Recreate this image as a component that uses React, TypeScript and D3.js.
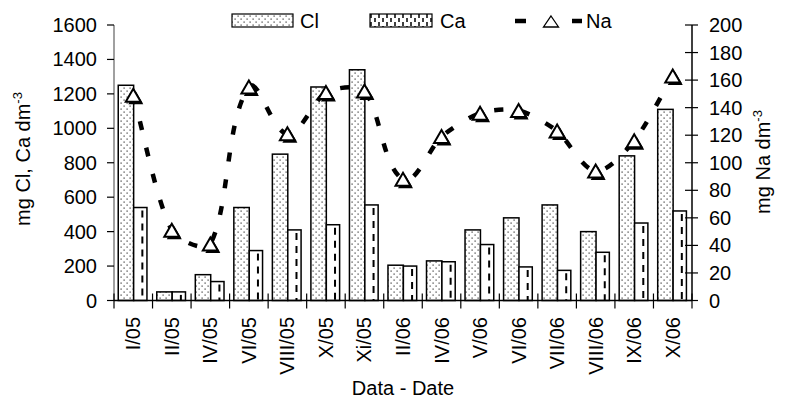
import * as d3 from 'd3';
import * as React from 'react';

const categories = ['I/05', 'II/05', 'IV/05', 'VI/05', 'VIII/05', 'X/05', 'Xi/05', 'II/06', 'IV/06', 'V/06', 'VI/06', 'VII/06', 'VIII/06', 'IX/06', 'X/06'];
const clValues = [1250, 50, 150, 540, 850, 1240, 1340, 205, 230, 410, 480, 555, 400, 840, 1110];
const caValues = [540, 50, 110, 290, 410, 440, 555, 200, 225, 325, 195, 175, 280, 450, 520];
const naValues = [149, 51, 41, 155, 121, 151, 152, 88, 119, 136, 138, 123, 94, 116, 163];
const leftTicks = [0, 200, 400, 600, 800, 1000, 1200, 1400, 1600];
const rightTicks = [0, 20, 40, 60, 80, 100, 120, 140, 160, 180, 200];

const width = 785;
const height = 407;
const plot = { left: 114, right: 692, top: 25, bottom: 300.5 };
const font = 'Liberation Sans, Arial, sans-serif';

const tri = (cx: number, cy: number, w: number, h: number) =>
  `M${cx},${cy - h / 2}L${cx + w / 2},${cy + h / 2}L${cx - w / 2},${cy + h / 2}Z`;

// Excel-ish smoothing: tangent from neighbours, arm length scaled to the segment
function smoothPath(pts: [number, number][], c = 0.25) {
  const n = pts.length;
  const tan = (i: number) => {
    const a = pts[Math.max(i - 1, 0)];
    const b = pts[Math.min(i + 1, n - 1)];
    const dx = b[0] - a[0];
    const dy = b[1] - a[1];
    const l = Math.hypot(dx, dy) || 1;
    return [dx / l, dy / l];
  };
  const p = d3.path();
  p.moveTo(pts[0][0], pts[0][1]);
  for (let i = 0; i < n - 1; i++) {
    const a = pts[i];
    const b = pts[i + 1];
    const ta = tan(i);
    const tb = tan(i + 1);
    const d = Math.hypot(b[0] - a[0], b[1] - a[1]) * c;
    p.bezierCurveTo(a[0] + ta[0] * d, a[1] + ta[1] * d, b[0] - tb[0] * d, b[1] - tb[1] * d, b[0], b[1]);
  }
  return p.toString();
}

export default function App() {
  const x = d3.scaleBand<string>().domain(categories).range([plot.left, plot.right]);
  const bw = x.bandwidth();
  const yL = d3.scaleLinear().domain([0, 1600]).range([plot.bottom, plot.top]);
  const yR = d3.scaleLinear().domain([0, 200]).range([plot.bottom, plot.top]);
  const cx = (i: number) => (x(categories[i]) as number) + bw / 2;

  const naPts = naValues.map((v, i) => [cx(i), yR(v)] as [number, number]);

  return (
    <svg width={width} height={height} style={{ position: 'absolute', left: 0, top: 0 }} fontFamily={font}>
      <defs>
        <pattern id="clPat" width={6} height={6} patternUnits="userSpaceOnUse">
          <rect width={6} height={6} fill="#fff" />
          <rect x={0.5} y={0.5} width={1.2} height={1.2} fill="#333" />
          <rect x={3.5} y={3.5} width={1.2} height={1.2} fill="#333" />
        </pattern>
        <pattern id="caPat" width={8} height={8} patternUnits="userSpaceOnUse" x={370} y={14}>
          <rect width={8} height={8} fill="#fff" />
          <line x1={1} x2={1} y1={0} y2={4} stroke="#000" strokeWidth={1.5} />
          <line x1={5} x2={5} y1={4} y2={8} stroke="#000" strokeWidth={1.5} />
        </pattern>
      </defs>

      {/* bars */}
      {categories.map((c, i) => {
        const x0 = x(c) as number;
        const caX = x0 + bw * 0.51;
        const caW = bw * 0.345;
        return (
          <g key={c}>
            <rect x={x0 + bw * 0.11} y={yL(clValues[i])} width={bw * 0.4} height={plot.bottom - yL(clValues[i])}
              fill="url(#clPat)" stroke="#000" strokeWidth={1.5} />
            <rect x={caX} y={yL(caValues[i])} width={caW} height={plot.bottom - yL(caValues[i])}
              fill="#fff" stroke="#000" strokeWidth={1.5} />
            <line x1={caX + 8.7} x2={caX + 8.7} y1={yL(caValues[i]) + 3} y2={plot.bottom}
              stroke="#000" strokeWidth={2} strokeDasharray="7,6" />
          </g>
        );
      })}

      {/* left axis */}
      <line x1={plot.left} x2={plot.left} y1={plot.top} y2={plot.bottom} stroke="#808080" strokeWidth={1.5} />
      {leftTicks.map(t => (
        <g key={t}>
          <line x1={plot.left - 7} x2={plot.left} y1={yL(t)} y2={yL(t)} stroke="#000" strokeWidth={1.2} />
          <text x={97} y={yL(t)} dy="0.35em" textAnchor="end" fontSize={20}>{t}</text>
        </g>
      ))}

      {/* right axis */}
      <line x1={plot.right} x2={plot.right} y1={plot.top} y2={plot.bottom} stroke="#000" strokeWidth={1.5} />
      {rightTicks.map(t => (
        <g key={t}>
          <line x1={plot.right - 7} x2={plot.right + 6} y1={yR(t)} y2={yR(t)} stroke="#000" strokeWidth={1.2} />
          <text x={709} y={yR(t)} dy="0.35em" textAnchor="start" fontSize={20}>{t}</text>
        </g>
      ))}

      {/* bottom axis */}
      <line x1={plot.left} x2={plot.right} y1={plot.bottom} y2={plot.bottom} stroke="#000" strokeWidth={1.5} />
      {d3.range(categories.length + 1).map(i => {
        const tx = plot.left + i * bw;
        return <line key={i} x1={tx} x2={tx} y1={plot.bottom - 7} y2={plot.bottom + 8} stroke="#000" strokeWidth={1.2} />;
      })}
      {categories.map((c, i) => (
        <text key={c} transform={`translate(${cx(i) + 7},317) rotate(-90)`} textAnchor="end" fontSize={20}>{c}</text>
      ))}

      {/* Na line */}
      <path d={smoothPath(naPts)} fill="none" stroke="#000" strokeWidth={4.5} strokeDasharray="9,18" />
      {naPts.map(([px, py], i) => (
        <g key={i}>
          <path d={tri(px + 2.5, py + 2.5, 15, 13)} fill="#000" />
          <path d={tri(px, py, 15, 13)} fill="#fff" stroke="#000" strokeWidth={2} />
        </g>
      ))}

      {/* axis titles */}
      <text transform="translate(30,159) rotate(-90)" textAnchor="middle" fontSize={20}>
        mg Cl, Ca dm<tspan dy={-8} fontSize={13}>-3</tspan>
      </text>
      <text transform="translate(770,162) rotate(-90)" textAnchor="middle" fontSize={20}>
        mg Na dm<tspan dy={-8} fontSize={13}>-3</tspan>
      </text>
      <text x={403} y={395} textAnchor="middle" fontSize={20}>Data - Date</text>

      {/* legend */}
      <rect x={232} y={14} width={61} height={13} fill="url(#clPat)" stroke="#000" strokeWidth={1.2} />
      <text x={300} y={28} fontSize={20}>Cl</text>
      <rect x={370} y={14} width={62} height={13} fill="url(#caPat)" stroke="#000" strokeWidth={1.2} />
      <text x={440} y={28} fontSize={20}>Ca</text>
      <line x1={515} x2={526} y1={21} y2={21} stroke="#000" strokeWidth={4.5} />
      <line x1={572} x2={582} y1={21} y2={21} stroke="#000" strokeWidth={4.5} />
      <path d={tri(551, 21.5, 15, 11)} fill="#fff" stroke="#000" strokeWidth={1.3} />
      <text x={586} y={28} fontSize={20}>Na</text>
    </svg>
  );
}
